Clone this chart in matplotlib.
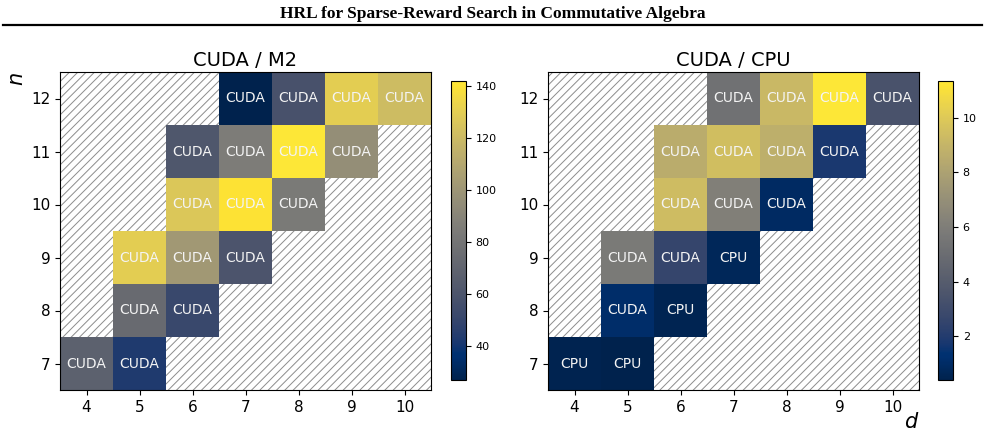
import numpy as np
import matplotlib
matplotlib.use("Agg")
import matplotlib.pyplot as plt
from matplotlib.patches import Rectangle
from matplotlib.lines import Line2D

d_vals = [4, 5, 6, 7, 8, 9, 10]
n_vals = [7, 8, 9, 10, 11, 12]

# rows: n = 7..12, cols: d = 4..10 (nan = not run)
nan = np.nan
ratio_m2 = [
    [68, 43, nan, nan, nan, nan, nan],
    [nan, 74, 52, nan, nan, nan, nan],
    [nan, 130, 102, 60, nan, nan, nan],
    [nan, nan, 127, 140, 84, nan, nan],
    [nan, nan, 62, 85, 142, 96, nan],
    [nan, nan, nan, 27, 58, 130, 121],
]
best_m2 = [
    ['CUDA', 'CUDA', '', '', '', '', ''],
    ['', 'CUDA', 'CUDA', '', '', '', ''],
    ['', 'CUDA', 'CUDA', 'CUDA', '', '', ''],
    ['', '', 'CUDA', 'CUDA', 'CUDA', '', ''],
    ['', '', 'CUDA', 'CUDA', 'CUDA', 'CUDA', ''],
    ['', '', '', 'CUDA', 'CUDA', 'CUDA', 'CUDA'],
]

ratio_cpu = [
    [0.5, 0.4, nan, nan, nan, nan, nan],
    [nan, 1.1, 0.55, nan, nan, nan, nan],
    [nan, 5.8, 2.6, 0.7, nan, nan, nan],
    [nan, nan, 9.4, 6.1, 0.95, nan, nan],
    [nan, nan, 8.6, 9.5, 8.7, 1.8, nan],
    [nan, nan, nan, 5.3, 9.2, 11.35, 3.4],
]
best_cpu = [
    ['CPU', 'CPU', '', '', '', '', ''],
    ['', 'CUDA', 'CPU', '', '', '', ''],
    ['', 'CUDA', 'CUDA', 'CPU', '', '', ''],
    ['', '', 'CUDA', 'CUDA', 'CUDA', '', ''],
    ['', '', 'CUDA', 'CUDA', 'CUDA', 'CUDA', ''],
    ['', '', '', 'CUDA', 'CUDA', 'CUDA', 'CUDA'],
]

plt.rcParams['hatch.color'] = '#8c8c8c'
plt.rcParams['hatch.linewidth'] = 0.7

fig = plt.figure(figsize=(9.85, 4.34), dpi=100)
W, H = 985, 434

def px_axes(x0, y0, x1, y1):
    return fig.add_axes([x0 / W, 1 - y1 / H, (x1 - x0) / W, (y1 - y0) / H])

fig.text(0.5, 1 - 14 / H, 'HRL for Sparse-Reward Search in Commutative Algebra',
         ha='center', va='center', fontsize=12.5, fontweight='bold',
         family='Liberation Serif')
fig.add_artist(Line2D([3 / W, 982 / W], [1 - 25 / H, 1 - 25 / H],
                      color='black', lw=1.6, transform=fig.transFigure))


def heatmap(ax, cax, values, labels, title):
    data = np.array(values, dtype=float)
    ax.add_patch(Rectangle((0, 0), 1, 1, transform=ax.transAxes,
                           facecolor='white', edgecolor='#8c8c8c',
                           hatch='////', lw=0, zorder=0))
    im = ax.imshow(np.ma.masked_invalid(data), cmap='cividis', origin='lower',
                   interpolation='nearest', aspect='auto',
                   extent=[d_vals[0] - 0.5, d_vals[-1] + 0.5,
                           n_vals[0] - 0.5, n_vals[-1] + 0.5], zorder=1)
    for i, n in enumerate(n_vals):
        for j, d in enumerate(d_vals):
            if labels[i][j]:
                ax.text(d, n, labels[i][j], ha='center', va='center',
                        color='#f4f4f4', fontsize=10, zorder=2)
    ax.set_xticks(d_vals)
    ax.set_yticks(n_vals)
    ax.tick_params(labelsize=11)
    ax.set_title(title, fontsize=14, pad=4)
    cb = fig.colorbar(im, cax=cax)
    cb.ax.tick_params(labelsize=8)
    return im


ax1 = px_axes(60, 72, 431, 390)
cax1 = px_axes(451, 81, 466, 380)
heatmap(ax1, cax1, ratio_m2, best_m2, 'CUDA / M2')
ax1.set_ylabel('$n$', fontsize=15, loc='top', labelpad=3)

ax2 = px_axes(548, 72, 919, 390)
cax2 = px_axes(938, 81, 953, 380)
heatmap(ax2, cax2, ratio_cpu, best_cpu, 'CUDA / CPU')
ax2.set_xlabel('$d$', fontsize=15, loc='right', labelpad=-2)

fig.savefig('out.png', dpi=100)
